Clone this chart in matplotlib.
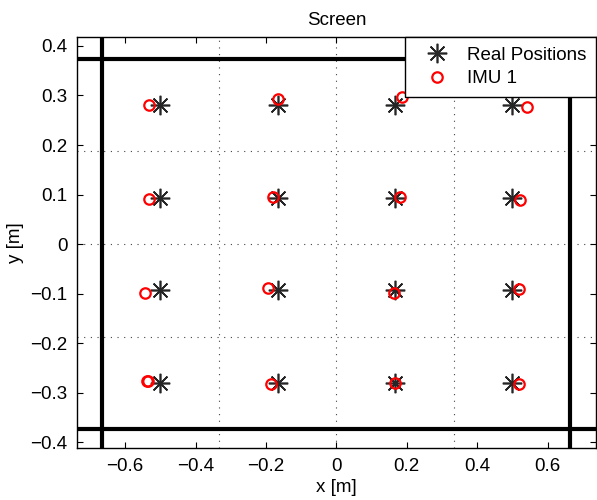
"""
Screen test: real target positions vs IMU 1 estimates
"""
import matplotlib
matplotlib.use('Agg')
import matplotlib.pyplot as plt

plt.rcParams['font.family'] = ['Liberation Sans', 'DejaVu Sans']
plt.rcParams['font.size'] = 13.5

# real target positions (centres of a 4x4 grid on the screen)
real_x = [-0.5, -0.1665, 0.1665, 0.5] * 4
real_y = [0.28] * 4 + [0.0935] * 4 + [-0.0935] * 4 + [-0.28] * 4

# IMU 1 estimates
imu_x = [-0.533, -0.165, 0.187, 0.541,
         -0.533, -0.180, 0.182, 0.522,
         -0.545, -0.193, 0.165, 0.518,
         -0.538, -0.536, -0.185, 0.167, 0.520]
imu_y = [0.280, 0.292, 0.296, 0.277,
         0.090, 0.0945, 0.095, 0.0885,
         -0.098, -0.089, -0.098, -0.091,
         -0.276, -0.277, -0.283, -0.280, -0.282]

# screen outline and grid divisions
screen_w = 0.665
screen_h = 0.374
div_x = [-0.333, 0, 0.333]
div_y = [-0.187, 0, 0.187]

x_ticks = [-0.6, -0.4, -0.2, 0, 0.2, 0.4, 0.6]
y_ticks = [-0.4, -0.3, -0.2, -0.1, 0, 0.1, 0.2, 0.3, 0.4]


def main():
    fig = plt.figure(figsize=(5.97, 5.0), dpi=100)
    ax = fig.add_axes([0.129, 0.1034, 0.869, 0.822])

    for xv in div_x:
        ax.axvline(xv, color='#444444', linestyle=(0, (1, 5)), linewidth=0.8, zorder=1)
    for yv in div_y:
        ax.axhline(yv, color='#444444', linestyle=(0, (1, 5)), linewidth=0.8, zorder=1)
    for xv in [-screen_w, screen_w]:
        ax.axvline(xv, color='black', linewidth=3, zorder=2)
    for yv in [-screen_h, screen_h]:
        ax.axhline(yv, color='black', linewidth=3, zorder=2)

    ax.plot(real_x, real_y, linestyle='none', marker=(8, 2, 0), markersize=14,
            markeredgewidth=1.2, color='#262626', label='Real Positions', zorder=3)
    ax.plot(imu_x, imu_y, linestyle='none', marker='o', markersize=7.5,
            markeredgewidth=1.6, markerfacecolor='none', markeredgecolor='red',
            label='IMU 1', zorder=4)

    ax.set_xlim(-0.737, 0.737)
    ax.set_ylim(-0.4125, 0.4175)
    ax.set_xticks(x_ticks)
    ax.set_xticklabels(['\u22120.6', '\u22120.4', '\u22120.2', '0', '0.2', '0.4', '0.6'])
    ax.set_yticks(y_ticks)
    ax.set_yticklabels(['\u22120.4', '\u22120.3', '\u22120.2', '\u22120.1', '0',
                        '0.1', '0.2', '0.3', '0.4'])
    ax.tick_params(direction='in', top=True, right=True, length=4, width=0.8, pad=7)
    for sp in ax.spines.values():
        sp.set_linewidth(1.0)

    ax.set_xlabel('x [m]', labelpad=3)
    ax.set_ylabel('y [m]', labelpad=4)
    ax.set_title('Screen', fontsize=13.5, pad=9)

    leg = ax.legend(loc='upper right', numpoints=1, handlelength=2.4, borderaxespad=0,
                    fancybox=False, framealpha=1, edgecolor='black',
                    borderpad=0.5, labelspacing=0.35, handletextpad=0.4)
    leg.get_frame().set_linewidth(1.0)

    plt.savefig('out.png', dpi=100)
    plt.close()


if __name__ == '__main__':
    main()
